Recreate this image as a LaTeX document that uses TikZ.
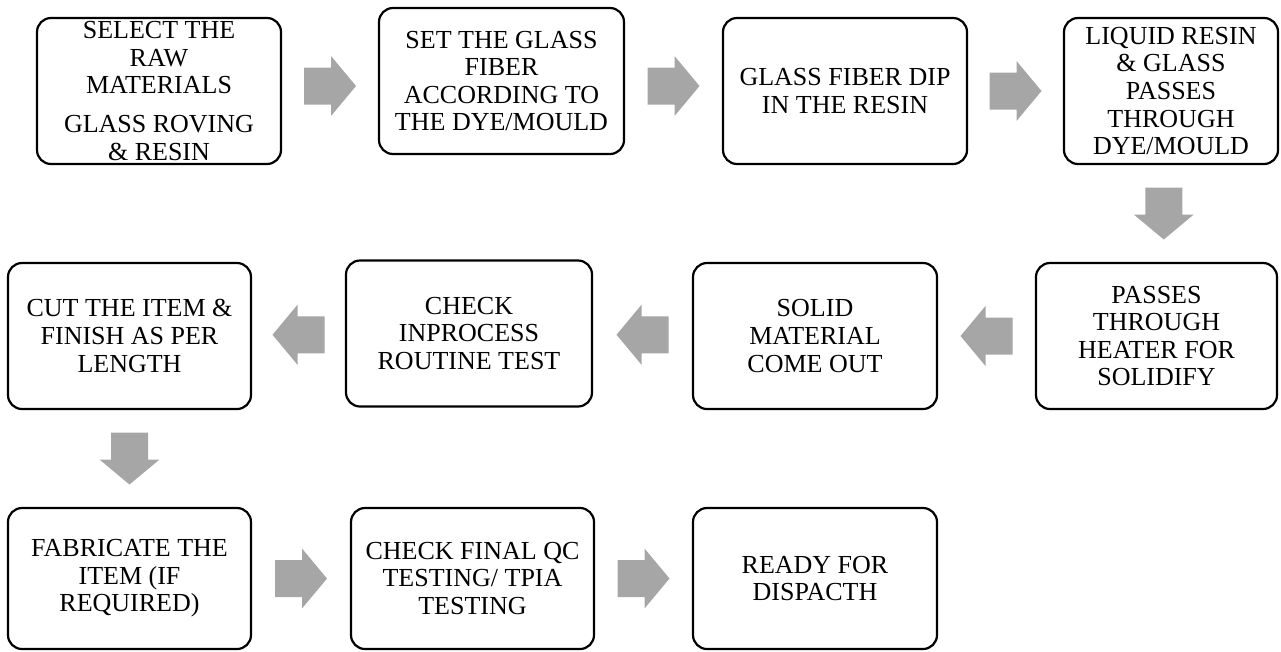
\documentclass[tikz,border=0pt]{standalone}
\usepackage{fontspec}
\setmainfont{Liberation Serif}
\usetikzlibrary{calc}
\definecolor{arrowgray}{RGB}{166,166,166}
\tikzset{
  x=1pt, y=-1pt,
  stepbox/.style={draw=black, line width=2.2pt, rounded corners=14pt,
    minimum width=#1, minimum height=146pt, align=center, inner sep=0pt,
    font=\fontsize{26}{27.6}\selectfont},
  lowbox/.style={stepbox=#1, minimum height=141pt},
  pics/barrow/.style={code={
    \fill[arrowgray] (-26,-18.5) -- (1,-18.5) -- (1,-30) -- (26,0)
      -- (1,30) -- (1,18.5) -- (-26,18.5) -- cycle;}}
}
\begin{document}
\begin{tikzpicture}
\useasboundingbox (0,0) rectangle (1281,651);
% row 1
\node[stepbox=244pt] (b1) at (159,91) {SELECT THE\\RAW\\MATERIALS\\[11pt]GLASS ROVING\\\& RESIN};
\node[stepbox=245pt] (b2) at (501.5,81) {SET THE GLASS\\FIBER\\ACCORDING TO\\THE DYE/MOULD};
\node[stepbox=244pt] (b3) at (845,91) {GLASS FIBER DIP\\IN THE RESIN};
\node[stepbox=214pt] (b4) at (1171,91) {LIQUID RESIN\\\& GLASS\\PASSES\\THROUGH\\DYE/MOULD};
% row 2
\node[stepbox=241pt] (b5) at (1156.5,336) {PASSES\\THROUGH\\HEATER FOR\\SOLIDIFY};
\node[stepbox=244pt] (b6) at (815,336) {SOLID\\MATERIAL\\COME OUT};
\node[stepbox=246pt] (b7) at (469,333.5) {CHECK\\INPROCESS\\ROUTINE TEST};
\node[stepbox=243pt] (b8) at (129.5,336) {CUT THE ITEM \&\\FINISH AS PER\\LENGTH};
% row 3
\node[lowbox=243pt] (b9) at (129.5,578.5) {FABRICATE THE\\ITEM (IF\\REQUIRED)};
\node[lowbox=243pt] (b10) at (472.5,578.5) {CHECK FINAL QC\\TESTING/ TPIA\\TESTING};
\node[lowbox=244pt] (b11) at (815,578.5) {READY FOR\\DISPACTH};
% arrows
\coordinate (a12) at ($(b1.east)!0.5!(b2.west)$);
\coordinate (a23) at ($(b2.east)!0.5!(b3.west)$);
\coordinate (a34) at ($(b3.east)!0.5!(b4.west)$);
\coordinate (a45) at ($(b4.south)!0.5!(b5.north)$);
\coordinate (a56) at ($(b5.west)!0.5!(b6.east)$);
\coordinate (a67) at ($(b6.west)!0.5!(b7.east)$);
\coordinate (a78) at ($(b7.west)!0.5!(b8.east)$);
\coordinate (a89) at ($(b8.south)!0.5!(b9.north)$);
\coordinate (a910) at ($(b9.east)!0.5!(b10.west)$);
\coordinate (a1011) at ($(b10.east)!0.5!(b11.west)$);
\pic at (a12) {barrow};
\pic at (a23) {barrow};
\pic at (a34) {barrow};
\pic[rotate=-90] at (a45) {barrow};
\pic[rotate=180] at (a56) {barrow};
\pic[rotate=180] at (a67) {barrow};
\pic[rotate=180] at (a78) {barrow};
\pic[rotate=-90] at (a89) {barrow};
\pic at (a910) {barrow};
\pic at (a1011) {barrow};
\end{tikzpicture}
\end{document}
